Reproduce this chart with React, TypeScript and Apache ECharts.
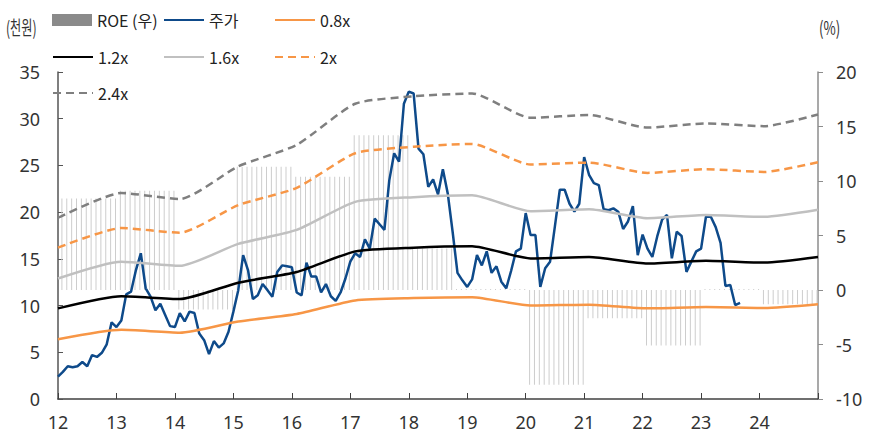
import React, { useEffect, useRef } from "react";
import * as echarts from "echarts";

// ROE (%, right axis): [value, number of months], consecutive from 2012-01
const ROE_RUNS: [number, number][] = [
  [8.4, 12], [9.1, 12], [-1.8, 12], [11.3, 12], [10.4, 12], [14.2, 12],
  [3.8, 9], [0.1, 15], [-8.7, 12], [-2.6, 12], [-5.1, 12], [0.1, 12], [-1.3, 12],
];

// Monthly share price (thousand won) from 2012-01
const PRICE_START = "2012-01";
const PRICE: number[] = [
  2.4, 2.9, 3.5, 3.4, 3.5, 3.96, 3.5, 4.7, 4.5, 4.95, 5.85, 8.2,
  7.7, 8.4, 11.2, 11.5, 13.8, 15.6, 11.85, 10.95, 9.5, 10.2, 9.0, 7.8,
  7.7, 9.2, 8.3, 9.35, 9.2, 7.0, 6.3, 4.8, 6.2, 5.5, 5.95, 7.2,
  9.35, 11.65, 15.4, 13.8, 10.7, 11.1, 12.3, 11.65, 10.95, 13.6, 14.3, 14.2,
  14.1, 11.4, 11.1, 14.6, 13.1, 13.1, 11.4, 12.3, 11.0, 10.5, 11.4, 12.9,
  14.7, 15.6, 15.2, 17.1, 16.1, 19.3, 18.7, 18.1, 23.4, 26.3, 25.4, 31.6,
  32.9, 32.7, 26.8, 26.2, 22.7, 23.5, 21.9, 24.6, 22.0, 17.9, 13.5, 12.7,
  12.0, 12.8, 15.4, 14.3, 15.8, 13.5, 14.2, 12.55, 11.85, 13.7, 15.8, 16.1,
  19.9, 17.55, 17.55, 12.0, 14.0, 14.7, 18.5, 22.4, 22.4, 20.9, 20.05, 20.9,
  25.9, 24.0, 23.1, 22.9, 20.3, 20.2, 20.4, 20.05, 18.2, 19.0, 20.65, 15.4,
  17.6, 16.1, 15.2, 17.4, 19.2, 19.7, 15.05, 17.9, 17.45, 13.6, 14.7, 15.8,
  16.1, 19.5, 19.5, 18.4, 16.7, 12.1, 12.2, 10.06, 10.3,
];

// PBR band points
const BAND_DATES = [
  "2012-01", "2013-02", "2014-02", "2015-02", "2016-02", "2017-02", "2018-02",
  "2019-02", "2020-02", "2021-02", "2022-02", "2023-02", "2024-02", "2025-01",
];
const BAND_08 = [6.4, 7.4, 7.1, 8.3, 9.1, 10.55, 10.8, 10.9, 10.0, 10.1, 9.7, 9.85, 9.75, 10.15];
const BAND_12 = [9.7, 11.0, 10.7, 12.45, 13.6, 15.8, 16.2, 16.35, 15.05, 15.2, 14.5, 14.8, 14.6, 15.2];
const BAND_16 = [12.9, 14.7, 14.25, 16.6, 18.1, 21.1, 21.6, 21.8, 20.1, 20.3, 19.35, 19.7, 19.5, 20.25];
const BAND_20 = [16.2, 18.3, 17.8, 20.75, 22.6, 26.3, 27.0, 27.3, 25.1, 25.3, 24.2, 24.6, 24.3, 25.35];
const BAND_24 = [19.4, 22.05, 21.4, 24.9, 27.2, 31.6, 32.4, 32.7, 30.1, 30.4, 29.05, 29.5, 29.2, 30.45];

const X_MIN = 2012;
const X_MAX = 2025;

const toYear = (s: string) => Number(s.slice(0, 4)) + (Number(s.slice(5, 7)) - 1) / 12;

export default function App() {
  const ref = useRef<HTMLDivElement>(null);

  useEffect(() => {
    if (!ref.current) return;
    const chart = echarts.init(ref.current, null, { renderer: "svg" });

    const roeData: [number, number][] = [];
    let m = 0;
    ROE_RUNS.forEach(([v, n]) => {
      for (let k = 0; k < n; k++) {
        roeData.push([X_MIN + (m + 0.8) / 12, v]);
        m++;
      }
    });
    const p0 = toYear(PRICE_START);
    const priceData = PRICE.map((v, i) => [p0 + i / 12, v]);
    const bx = BAND_DATES.map(toYear);
    const band = (arr: number[]) => arr.map((v, i) => [bx[i], v]);

    const tickFont = { fontFamily: "'Noto Sans', sans-serif", fontSize: 18, color: "#333" };
    const legFont = {
      fontFamily: "'Liberation Sans Narrow', 'Noto Sans CJK KR', sans-serif",
      fontSize: 16,
      lineHeight: 18,
      color: "#222",
    };
    const legendAt = (item: any, left: number, center: number) => ({
      data: [typeof item === "string" ? { name: item, itemStyle: { opacity: 0, borderWidth: 0 } } : item],
      left,
      top: center - 9,
      padding: 0,
      itemWidth: 40,
      itemHeight: 12,
      selectedMode: false,
      textStyle: legFont,
    });

    const bandLine = (name: string, data: number[], color: string, dashed: boolean) => ({
      name,
      type: "line",
      data: band(data),
      symbol: "none",
      smooth: 0.2,
      lineStyle: { color, width: 2.5, type: dashed ? [8, 5] : "solid" },
      itemStyle: { color },
      z: 3,
    });

    chart.setOption({
      animation: false,
      grid: { left: 58, right: 58, top: 72, bottom: 37, containLabel: false },
      legend: [
        legendAt({ name: "ROE (우)", icon: "rect", itemStyle: { color: "#8a8a8a" } }, 52, 20),
        legendAt("주가", 163, 20),
        legendAt("0.8x", 274, 20),
        legendAt("1.2x", 52, 57),
        legendAt("1.6x", 163, 57),
        legendAt("2x", 274, 57),
        legendAt("2.4x", 52, 93),
      ],
      graphic: [
        {
          type: "text",
          x: 6,
          y: 27,
          scaleX: 0.64,
          style: {
            text: "(천원)",
            font: "19px 'Noto Sans CJK KR'",
            fill: "#333",
            textVerticalAlign: "middle",
          },
        },
        {
          type: "text",
          x: 819,
          y: 27,
          scaleX: 0.7,
          style: {
            text: "(%)",
            font: "19px 'Noto Sans CJK KR'",
            fill: "#333",
            textVerticalAlign: "middle",
          },
        },
      ],
      xAxis: {
        type: "value",
        min: X_MIN,
        max: X_MAX,
        interval: 1,
        axisLine: { lineStyle: { color: "#404040", width: 1.5 } },
        axisTick: { inside: true, length: 6, lineStyle: { color: "#404040" } },
        axisLabel: {
          ...tickFont,
          margin: 14,
          formatter: (v: number) => (v >= X_MAX ? "" : String(v - 2000)),
        },
        splitLine: { show: false },
      },
      yAxis: [
        {
          type: "value",
          min: 0,
          max: 35,
          interval: 5,
          axisLine: { show: true, lineStyle: { color: "#555", width: 1.5 } },
          axisTick: { show: true, inside: true, length: 5, lineStyle: { color: "#555" } },
          axisLabel: { ...tickFont, margin: 18 },
          splitLine: { show: false },
        },
        {
          type: "value",
          min: -10,
          max: 20,
          interval: 5,
          position: "right",
          axisLine: { show: true, lineStyle: { color: "#8c8c8c", width: 1.5 } },
          axisTick: { show: true, inside: false, length: 5, lineStyle: { color: "#8c8c8c" } },
          axisLabel: { ...tickFont, margin: 18 },
          splitLine: { show: false },
        },
      ],
      series: [
        {
          name: "ROE (우)",
          type: "bar",
          yAxisIndex: 1,
          data: roeData,
          barWidth: 1,
          itemStyle: { color: "#cdcdcd" },
          z: 1,
        },
        {
          name: "주가",
          type: "line",
          data: priceData,
          symbol: "none",
          lineStyle: { color: "#0e4a8a", width: 2.5 },
          itemStyle: { color: "#0e4a8a" },
          z: 2,
        },
        bandLine("0.8x", BAND_08, "#f79646", false),
        bandLine("1.2x", BAND_12, "#000000", false),
        bandLine("1.6x", BAND_16, "#c0c0c0", false),
        bandLine("2x", BAND_20, "#f79646", true),
        bandLine("2.4x", BAND_24, "#7f7f7f", true),
      ],
    });

    return () => chart.dispose();
  }, []);

  return (
    <div
      ref={ref}
      style={{ position: "absolute", left: 0, top: 0, width: 876, height: 436 }}
    />
  );
}
